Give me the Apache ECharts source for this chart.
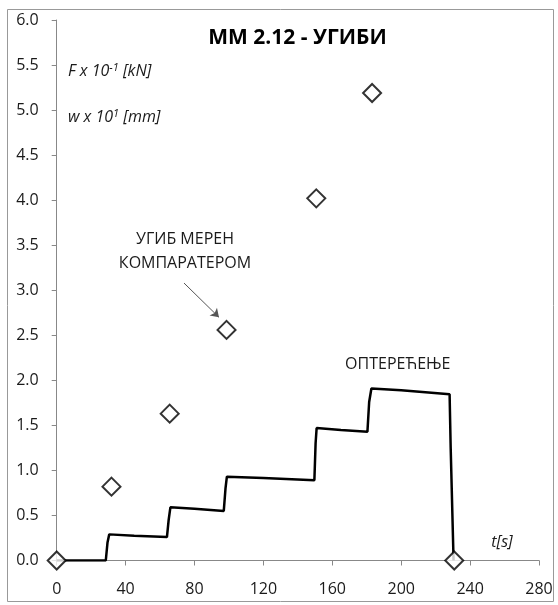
<!DOCTYPE html>
<html>
<head>
<meta charset="utf-8">
<script src="https://cdn.jsdelivr.net/npm/echarts@6/dist/echarts.min.js"></script>
<style>
html,body{margin:0;padding:0;background:#fff;}
#c{width:558px;height:605px;}
</style>
</head>
<body>
<div id="c"></div>
<script>
// Load F x 10^-1 [kN] vs time t [s]
const loadTime = [0, 10, 20, 28.5, 29.5, 30.5, 45, 64, 65, 66, 80, 97, 98, 98.8, 120, 149.6, 150.3, 150.9, 165, 180.4, 181.4, 182.7, 200, 228.1, 228.7, 229.1, 230.4];
const loadValue = [0, 0, 0, 0, 0.20, 0.29, 0.275, 0.26, 0.45, 0.59, 0.575, 0.55, 0.80, 0.93, 0.915, 0.89, 1.30, 1.47, 1.45, 1.43, 1.76, 1.91, 1.89, 1.845, 1.27, 0.975, 0];
// Deflection w x 10^1 [mm] measured with comparator
const deflTime = [0, 31.8, 65.6, 98.6, 150.7, 183.1, 230.8];
const deflValue = [0, 0.82, 1.63, 2.56, 4.02, 5.19, 0];
const xTicks = [0, 40, 80, 120, 160, 200, 240, 280];
const yTicks = [0, 0.5, 1, 1.5, 2, 2.5, 3, 3.5, 4, 4.5, 5, 5.5, 6];

const font = "'Open Sans', 'Noto Sans', sans-serif";
const chart = echarts.init(document.getElementById('c'));
chart.setOption({
  animation: false,
  backgroundColor: '#fff',
  grid: {left: 56.7, right: 19, top: 20, bottom: 44.5},
  xAxis: {
    type: 'value', min: xTicks[0], max: xTicks[xTicks.length-1], interval: 40,
    axisLine: {onZero: false, lineStyle: {color: '#888', width: 1}},
    axisTick: {show: true, length: 5, inside: false, lineStyle: {color: '#888'}},
    axisLabel: {color: '#1a1a1a', fontFamily: font, fontSize: 16, margin: 21},
    splitLine: {show: false}
  },
  yAxis: {
    type: 'value', min: yTicks[0], max: yTicks[yTicks.length-1], interval: 0.5,
    axisLine: {show: true, lineStyle: {color: '#888', width: 1}},
    axisTick: {show: true, length: 5, lineStyle: {color: '#888'}},
    axisLabel: {color: '#1a1a1a', fontFamily: font, fontSize: 16, margin: 18,
      formatter: v => v.toFixed(1)},
    splitLine: {show: false}
  },
  series: [
    {
      type: 'line', data: loadTime.map((t, i) => [t, loadValue[i]]),
      showSymbol: false, lineStyle: {color: '#000', width: 2.5}, z: 2
    },
    {
      type: 'scatter', data: deflTime.map((t, i) => [t, deflValue[i]]),
      symbol: 'diamond', symbolSize: 18,
      itemStyle: {color: '#fff', borderColor: '#000', borderWidth: 2}, z: 3,
      markLine: {
        silent: true, symbol: ['none', 'arrow'], symbolSize: 8,
        lineStyle: {color: '#555', width: 1, type: 'solid'},
        label: {show: false},
        data: [[{coord: [73.9, 3.08]}, {coord: [94.2, 2.70]}]]
      }
    }
  ],
  graphic: [
    {type: 'rect', shape: {x: 7.5, y: 9.5, width: 546, height: 592}, style: {fill: 'none', stroke: '#999', lineWidth: 1}, silent: true},
    {type: 'text', x: 297.5, y: 38, style: {text: 'MM 2.12 - УГИБИ', font: "bold 21px 'Open Sans', 'Noto Sans', sans-serif", fill: '#000', textAlign: 'center', textVerticalAlign: 'middle'}},
    {type: 'text', x: 68, y: 71, style: {
      text: '{a|F x 10}{s|-1}{a| [kN]}', textVerticalAlign: 'middle',
      rich: {a: {fontFamily: font, fontStyle: 'italic', fontSize: 16, fill: '#1a1a1a'}, s: {fontFamily: font, fontStyle: 'italic', fontSize: 11, fill: '#1a1a1a', verticalAlign: 'top', padding: [0,0,7,0]}}}},
    {type: 'text', x: 68, y: 117, style: {
      text: '{a|w x 10}{s|1}{a| [mm]}', textVerticalAlign: 'middle',
      rich: {a: {fontFamily: font, fontStyle: 'italic', fontSize: 16, fill: '#1a1a1a'}, s: {fontFamily: font, fontStyle: 'italic', fontSize: 11, fill: '#1a1a1a', verticalAlign: 'top', padding: [0,0,7,0]}}}},
    {type: 'text', x: 185, y: 251, style: {text: 'УГИБ МЕРЕН\nКОМПАРАТЕРОМ', font: "16px 'Open Sans', 'Noto Sans', sans-serif", lineHeight: 24, fill: '#1a1a1a', textAlign: 'center', textVerticalAlign: 'middle'}},
    {type: 'text', x: 397.7, y: 364, style: {text: 'ОПТЕРЕЋЕЊЕ', font: "16px 'Open Sans', 'Noto Sans', sans-serif", fill: '#1a1a1a', textAlign: 'center', textVerticalAlign: 'middle'}},
    {type: 'text', x: 502, y: 542, style: {text: 't[s]', font: "italic 16px 'Open Sans', 'Noto Sans', sans-serif", fill: '#1a1a1a', textAlign: 'center', textVerticalAlign: 'middle'}}
  ]
});
</script>
</body>
</html>
